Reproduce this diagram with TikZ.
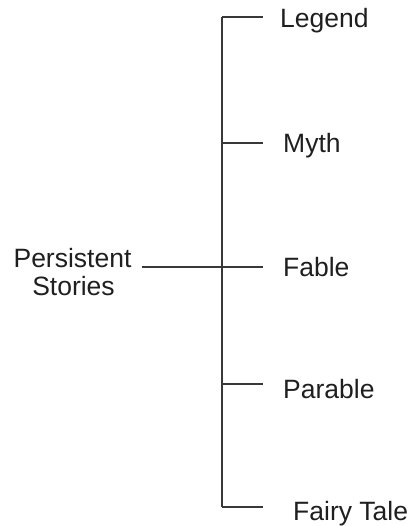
\documentclass[tikz,border=0pt]{standalone}
\usepackage{fontspec}
\setmainfont{Liberation Sans}
\begin{document}
\begin{tikzpicture}[x=1pt,y=-1pt]
\tikzset{
  label/.style={anchor=base west, inner sep=0pt, text=black!88,
    font=\fontsize{26.5}{30}\selectfont},
  rootlabel/.style={anchor=base, inner sep=0pt, text=black!88,
    font=\fontsize{26.5}{30}\selectfont},
  wire/.style={draw=black!78, line width=1.4pt}
}
\useasboundingbox (0,0) rectangle (409,526);

% root text, one node per line
\node[rootlabel] (root1) at (72.5,267) {Persistent};
\node[rootlabel] (root2) at (73.5,295) {Stories};

% leaves
\node[label] (legend)  at (280,28)  {Legend};
\node[label] (myth)    at (283,153) {Myth};
\node[label] (fable)   at (283,276) {Fable};
\node[label] (parable) at (283,398) {Parable};
\node[label] (fairy)   at (293,520) {Fairy Tale};

% spine junctions and branch ends
\coordinate (jLegend)  at (222,17);
\coordinate (jMyth)    at (222,143);
\coordinate (jFable)   at (222,267);
\coordinate (jParable) at (222,384);
\coordinate (jFairy)   at (222,507);
\coordinate (tip)      at (263,0);
\coordinate (rootEnd)  at (142,267);

% vertical spine
\draw[wire] (jLegend) -- (jFairy);

% branches towards the leaves
\draw[wire] (jLegend)  -- (jLegend  -| tip);
\draw[wire] (jMyth)    -- (jMyth    -| tip);
\draw[wire] (rootEnd)  -- (jFable   -| tip);
\draw[wire] (jParable) -- (jParable -| tip);
\draw[wire] (jFairy)   -- (jFairy   -| tip);
\end{tikzpicture}
\end{document}
